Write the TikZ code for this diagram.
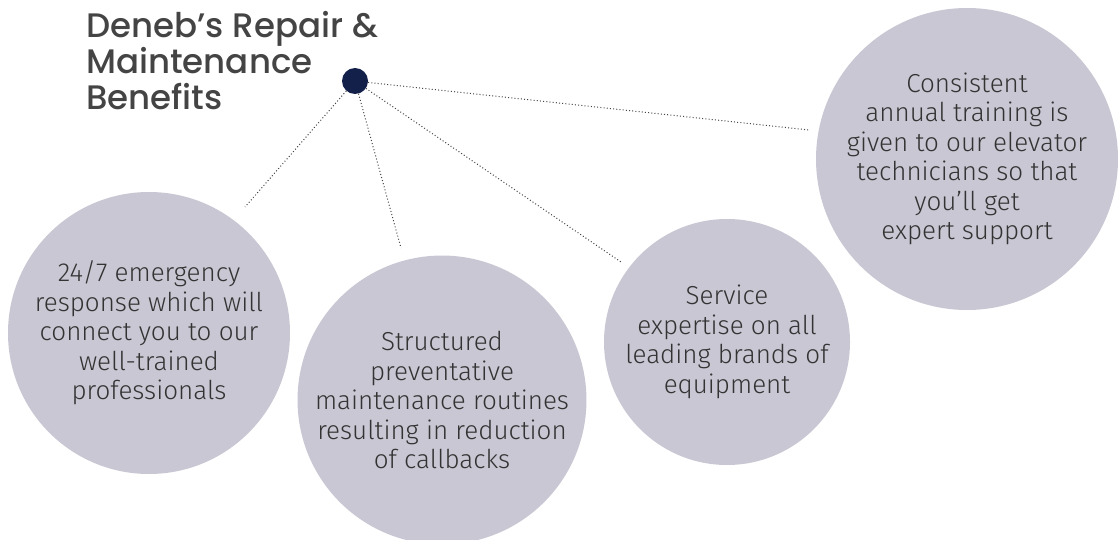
\documentclass[tikz,border=0pt]{standalone}
\usepackage{fontspec}
\newfontfamily\titlefont{Poppins Medium}
\newfontfamily\bodyfont{Fira Sans Light}
\definecolor{circfill}{HTML}{C9C7D3}
\definecolor{dotfill}{HTML}{13204A}
\definecolor{txt}{HTML}{333333}
\definecolor{ttl}{HTML}{444444}
\definecolor{linec}{HTML}{444444}
\tikzset{
  benefit/.style={circle, fill=circfill, draw=none, inner sep=0pt, align=center,
    text=txt, font=\bodyfont\fontsize{26}{29.5}\selectfont},
  hub/.style={circle, fill=dotfill, draw=none, minimum size=26pt, inner sep=0pt},
  link/.style={draw=linec, line width=1pt, dash pattern=on 1pt off 2.2pt},
}
\begin{document}
\begin{tikzpicture}[x=1pt,y=-1pt]
\useasboundingbox (0,0) rectangle (1118,540);
\node[anchor=north west, align=left, text=ttl, font=\titlefont\fontsize{34}{36}\selectfont, inner sep=0pt] (title) at (86,11) {Deneb’s Repair \&\\Maintenance\\Benefits};
\node[hub] (hub) at (355,81) {};
\node[benefit, minimum size=282pt] (c1) at (149,333) {24/7 emergency\\response which will\\connect you to our\\well-trained\\professionals};
\node[benefit, minimum size=280pt] (c2) at (442,400) {Structured\\preventative\\maintenance routines\\resulting in reduction\\of callbacks};
\node[benefit, minimum size=246pt] (c3) at (727,342) {Service\\expertise on all\\leading brands of\\equipment};
\node[benefit, minimum size=302pt] (c4) at (967,159) {Consistent\\annual training is\\given to our elevator\\technicians so that\\you’ll get\\expert support};
\coordinate (e1) at (245,207);
\coordinate (e2) at (401,248);
\coordinate (e3) at (621,262);
\coordinate (e4) at (809,130);
\draw[link] (hub) -- (e1);
\draw[link] (hub) -- (e2);
\draw[link] (hub) -- (e3);
\draw[link] (hub) -- (e4);
\end{tikzpicture}
\end{document}
